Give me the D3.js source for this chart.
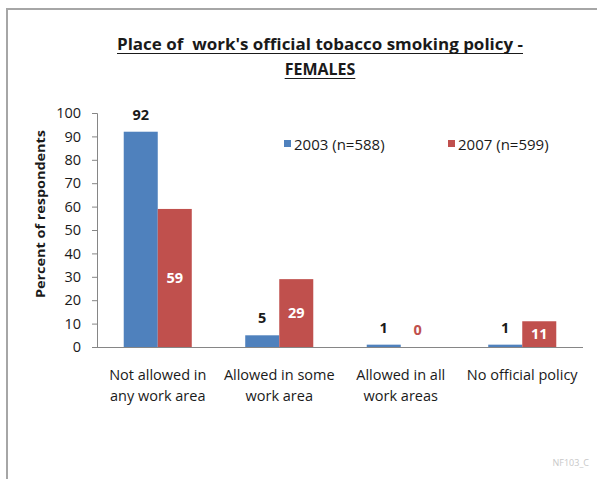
<!DOCTYPE html>
<html><head><meta charset="utf-8">
<script src="https://cdn.jsdelivr.net/npm/d3@7"></script>
<style>
body{margin:0;background:#fff;}
svg{display:block;font-family:"Open Sans",Lato,sans-serif;}
text{white-space:pre;}
</style></head>
<body><svg id="c" width="597" height="479"></svg>
<script>
const categories = [["Not allowed in","any work area"],["Allowed in some","work area"],["Allowed in all","work areas"],["No official policy"]];
const series = ["2003 (n=588)","2007 (n=599)"];
const values2003 = [92,5,1,1];
const values2007 = [59,29,0,11];
const yTicks = [0,10,20,30,40,50,60,70,80,90,100];
const colors = ["#4F81BD","#C0504D"];
const titleLines = ["Place of  work's official tobacco smoking policy -","FEMALES"];
const yTitle = "Percent of respondents";
const watermark = "NF103_C";

const svg = d3.select("#c");
// frame
svg.append("rect").attr("x",7).attr("y",9).attr("width",600).attr("height",480)
  .attr("fill","#fff").attr("stroke","#a6a6a6").attr("stroke-width",2);

const m = {l:97, r:583, t:113, b:347};
const x0 = d3.scaleBand().domain(d3.range(categories.length)).range([m.l,m.r]).paddingInner(0.44).paddingOuter(0.22);
const x1 = d3.scaleBand().domain([0,1]).range([0,x0.bandwidth()]);
const y = d3.scaleLinear().domain([0,100]).range([m.b,m.t]);

// title
const tt = svg.append("g");
const titleW = [406, 0];
titleLines.forEach((t,i)=>{
  const tx = tt.append("text").attr("x",320).attr("y",50+i*25).attr("text-anchor","middle")
    .attr("font-size",16).attr("font-weight","bold").attr("fill","#1a1a1a").text(t);
  if (titleW[i]) tx.attr("textLength",titleW[i]).attr("lengthAdjust","spacingAndGlyphs");
  const w = titleW[i] || tx.node().getComputedTextLength();
  tt.append("line").attr("x1",320-w/2).attr("x2",320+w/2).attr("y1",53.5+i*25).attr("y2",53.5+i*25)
    .attr("stroke","#1a1a1a").attr("stroke-width",1.2);
});

// y axis
const ya = svg.append("g").attr("transform",`translate(${m.l},0)`)
  .call(d3.axisLeft(y).tickValues(yTicks).tickSize(5).tickPadding(11));
ya.select(".domain").attr("stroke","#868686");
ya.selectAll(".tick line").attr("stroke","#868686");
ya.selectAll(".tick text").attr("font-size",14.5).attr("fill","#1a1a1a").attr("font-family","'Open Sans',sans-serif");

svg.append("text").attr("transform",`translate(45,${(130+298)/2}) rotate(-90)`)
  .attr("text-anchor","middle").attr("font-size",12).attr("font-weight","bold").attr("fill","#1a1a1a")
  .attr("textLength",168).attr("lengthAdjust","spacingAndGlyphs").text(yTitle);

// bars
const data = [values2003, values2007];
data.forEach((vals,s)=>{
  svg.append("g").selectAll("rect").data(vals).join("rect")
    .attr("x",(d,i)=>x0(i)+x1(s)).attr("width",x1.bandwidth())
    .attr("y",d=>y(d)).attr("height",d=>y(0)-y(d)).attr("fill",colors[s]);
});

// x axis
svg.append("line").attr("x1",m.l).attr("x2",m.r).attr("y1",m.b+0.5).attr("y2",m.b+0.5).attr("stroke","#868686");

// labels 2003 (above bars)
svg.append("g").selectAll("text").data(values2003).join("text")
  .attr("x",(d,i)=>x0(i)+x1(0)+x1.bandwidth()/2).attr("y",d=>y(d)-12)
  .attr("text-anchor","middle").attr("font-size",14.5).attr("font-weight","bold").attr("fill","#1a1a1a").text(d=>d);
// labels 2007 (center of bar)
svg.append("g").selectAll("text").data(values2007).join("text")
  .attr("x",(d,i)=>x0(i)+x1(1)+x1.bandwidth()/2)
  .attr("y",d=> d===0 ? y(0)-12 : (y(d)+y(0))/2+5)
  .attr("text-anchor","middle").attr("font-size",14.5).attr("font-weight","bold")
  .attr("fill",d=> d===0 ? "#C0504D" : "#fff").text(d=>d);

// category labels
const cg = svg.append("g");
categories.forEach((lines,i)=>{
  lines.forEach((ln,j)=>{
    cg.append("text").attr("x",x0(i)+x0.bandwidth()/2).attr("y",380+j*21)
      .attr("text-anchor","middle").attr("font-size",14.5).attr("fill","#1a1a1a").text(ln);
  });
});

// legend
const lx = [284,448];
series.forEach((s,i)=>{
  svg.append("rect").attr("x",lx[i]).attr("y",140).attr("width",7).attr("height",7).attr("fill",colors[i]);
  svg.append("text").attr("x",lx[i]+10).attr("y",149.5).attr("font-size",15).attr("fill","#1a1a1a").text(s);
});

// watermark
svg.append("text").attr("x",589).attr("y",466).attr("text-anchor","end").attr("font-size",9).attr("fill","#c8c8c8").text(watermark);
</script></body></html>
